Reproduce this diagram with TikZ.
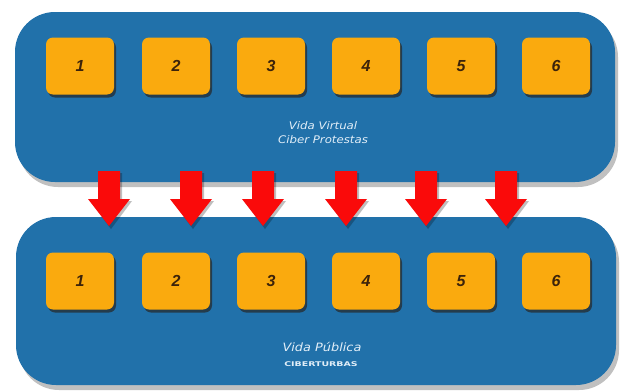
\documentclass[tikz,border=0pt]{standalone}
\usepackage{fontspec}
\setmainfont{Liberation Sans}
\newfontfamily\wideitfont[FakeStretch=1.12]{DejaVu Sans}
\newfontfamily\widebffont[FakeStretch=1.45]{DejaVu Sans}
\usetikzlibrary{shadows}
\definecolor{panelblue}{RGB}{33,113,170}
\definecolor{boxorange}{RGB}{250,170,14}
\definecolor{numbrown}{RGB}{60,35,10}
\definecolor{arrowred}{RGB}{250,10,10}
\definecolor{labelwhite}{RGB}{225,238,248}
\tikzset{
  panel/.style={fill=panelblue, rounded corners=40pt, minimum width=600pt, inner sep=0pt,
    drop shadow={shadow xshift=3pt, shadow yshift=-5pt, opacity=0.35, fill=black!70}},
  numbox/.style={fill=boxorange, rounded corners=7pt, minimum width=68pt, minimum height=57pt,
    inner sep=0pt, text=numbrown, font=\fontsize{16}{16}\selectfont\bfseries\itshape,
    drop shadow={shadow xshift=2pt, shadow yshift=-3pt, opacity=0.7, fill=black!85}},
  biglabel/.style={text=labelwhite, font=\wideitfont\fontsize{10.5}{10.5}\selectfont\itshape, inner sep=0pt},
  smalllabel/.style={text=labelwhite, font=\widebffont\fontsize{6.5}{6.5}\selectfont\bfseries, inner sep=0pt},
  redarrow/.style={fill=arrowred},
  arrowshadow/.style={fill=black, opacity=0.25}
}
\begin{document}
\begin{tikzpicture}[x=1pt,y=-1pt]
\useasboundingbox (0,0) rectangle (622,391);
\fill[white] (0,0) rectangle (622,391);
% panels
\node[panel, minimum height=170pt] (toppanel) at (315,97) {};
\node[panel, minimum height=168pt] (botpanel) at (316,301) {};
% number boxes
\foreach \i/\x in {1/80,2/176,3/271,4/366,5/461,6/556}{
  \node[numbox] (t\i) at (\x,66) {\i};
  \node[numbox] (b\i) at (\x,281) {\i};
}
% labels
\node[biglabel] (tl1) at (323,126) {Vida Virtual};
\node[biglabel] (tl2) at (323,140) {Ciber Protestas};
\node[biglabel, font=\wideitfont\fontsize{11.5}{11.5}\selectfont\itshape] (bl1) at (322,347) {Vida Pública};
\node[smalllabel] (bl2) at (321,364.5) {CIBERTURBAS};
% arrows
\foreach \x in {109,191,263,346,426,506}{
  \fill[arrowshadow] (\x-9,173) -- (\x+13,173) -- (\x+13,201) -- (\x+23,201) -- (\x+2,229) -- (\x-19,201) -- (\x-9,201) -- cycle;
  \fill[redarrow] (\x-11,171) -- (\x+11,171) -- (\x+11,199) -- (\x+21,199) -- (\x,226) -- (\x-21,199) -- (\x-11,199) -- cycle;
}
\end{tikzpicture}
\end{document}
